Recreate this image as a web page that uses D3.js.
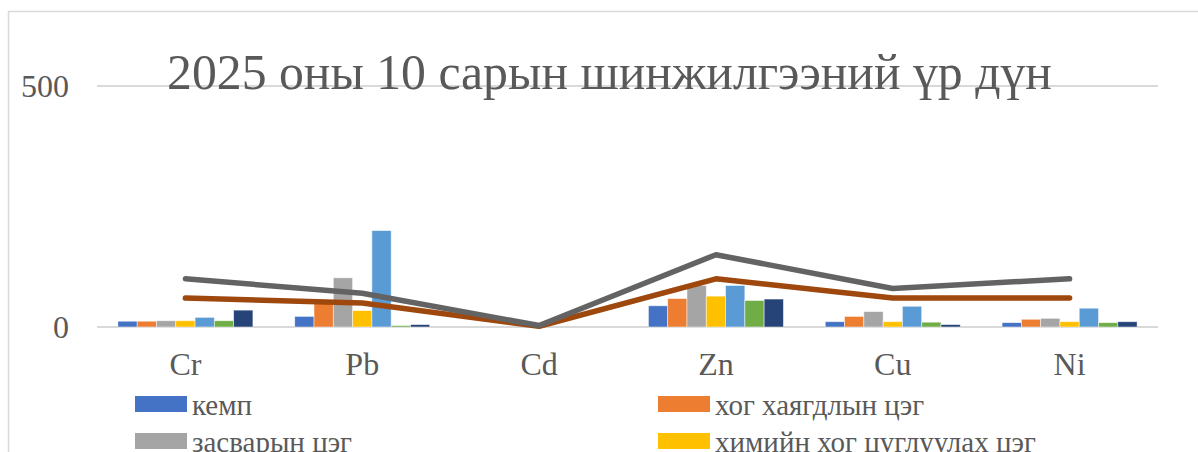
<!DOCTYPE html>
<html>
<head>
<meta charset="utf-8">
<script src="https://cdn.jsdelivr.net/npm/d3@7"></script>
<style>
  html, body { margin: 0; padding: 0; background: #fff; }
  svg { display: block; }
  text { font-family: "Liberation Serif", "Times New Roman", serif; fill: #595959; }
</style>
</head>
<body>
<svg id="chart" width="1198" height="452"></svg>
<script>
// ---- data ----
const title = "2025 оны 10 сарын шинжилгээний үр дүн";
const categories = ["Cr", "Pb", "Cd", "Zn", "Cu", "Ni"];
const yTicks = [0, 500];

// bar series (only the first four names are visible in the cropped legend)
const barNames = ["кемп", "хог хаягдлын цэг", "засварын цэг", "химийн хог цуглуулах цэг", "", "", ""];
const barColors = ["#4472c4", "#ed7d31", "#a5a5a5", "#ffc000", "#5b9bd5", "#70ad47", "#264478"];
const bar1 = [12, 22, 0, 44, 11, 9];
const bar2 = [12, 49, 0, 59, 22, 16];
const bar3 = [13, 102, 0, 86, 32, 18];
const bar4 = [13, 34, 0, 64, 11, 11];
const bar5 = [20, 200, 0, 86, 43, 39];
const bar6 = [13, 3, 0, 55, 10, 9];
const bar7 = [35, 5, 0, 58, 5, 11];
const barSeries = [bar1, bar2, bar3, bar4, bar5, bar6, bar7];

// line series
const lineA = [60, 50, 1.5, 100, 60, 60];   // brown
const lineB = [100, 70, 3, 150, 80, 100];   // dark gray
const lineColors = ["#9e480e", "#636363"];
const lineSeries = [lineA, lineB];

// ---- drawing ----
const svg = d3.select("#chart");

// chart frame
svg.append("rect")
  .attr("x", 8.5).attr("y", 11.5)
  .attr("width", 1300).attr("height", 600)
  .attr("fill", "none").attr("stroke", "#d9d9d9").attr("stroke-width", 1.5);

const x = d3.scaleBand().domain(categories).range([97, 1158])
  .paddingInner(0.2365).paddingOuter(0.1182);
const xi = d3.scaleBand().domain(d3.range(barSeries.length)).range([0, x.bandwidth()]);
const y = d3.scaleLinear().domain([0, 500]).range([327, 86]);

// gridlines
svg.append("g").selectAll("line").data(yTicks).join("line")
  .attr("x1", 97).attr("x2", 1158)
  .attr("y1", d => y(d)).attr("y2", d => y(d))
  .attr("stroke", "#d9d9d9").attr("stroke-width", 2);

// y axis labels
const yAxis = d3.axisLeft(y).tickValues(yTicks).tickSize(0).tickPadding(0);
const gy = svg.append("g").attr("transform", "translate(69,0)").call(yAxis);
gy.select(".domain").remove();
gy.selectAll("text").attr("font-size", 32).attr("fill", "#595959")
  .style("font-family", "Liberation Serif");
gy.attr("font-family", null);

// bars
const groups = svg.append("g").selectAll("g").data(barSeries).join("g")
  .attr("fill", (d, i) => barColors[i]);
groups.each(function (vals, si) {
  d3.select(this).selectAll("rect").data(vals).join("rect")
    .attr("x", (v, ci) => x(categories[ci]) + xi(si))
    .attr("width", xi.bandwidth())
    .attr("y", v => y(v))
    .attr("height", v => y(0) - y(v))
    .attr("stroke", "#ffffff").attr("stroke-opacity", 0.6).attr("stroke-width", 0.8);
});

// lines
const line = d3.line()
  .x((v, i) => x(categories[i]) + x.bandwidth() / 2)
  .y(v => y(v));
svg.append("g").selectAll("path").data(lineSeries).join("path")
  .attr("d", d => line(d))
  .attr("fill", "none")
  .attr("stroke", (d, i) => lineColors[i])
  .attr("stroke-width", 5.5)
  .attr("stroke-linecap", "round")
  .attr("stroke-linejoin", "round");

// x axis labels
const xAxis = d3.axisBottom(x).tickSize(0).tickPadding(0);
const gx = svg.append("g").attr("transform", "translate(0,375)").call(xAxis);
gx.select(".domain").remove();
gx.attr("font-family", null);
gx.selectAll("text").attr("font-size", 32).attr("fill", "#595959")
  .attr("dy", 0).style("font-family", "Liberation Serif");

// title (fit to measured width)
const t = svg.append("text")
  .attr("x", 609.5).attr("y", 89)
  .attr("text-anchor", "middle")
  .attr("font-size", 58)
  .text(title);
const w = t.node().getComputedTextLength();
t.attr("font-size", 58 * 885 / w);

// legend
const legendItems = barNames.map((n, i) => ({ name: n, color: barColors[i] })).filter(d => d.name);
const legend = svg.append("g").selectAll("g").data(legendItems).join("g")
  .attr("transform", (d, i) => `translate(${i % 2 === 0 ? 135 : 658},${396 + Math.floor(i / 2) * 37})`);
legend.append("rect").attr("width", 52).attr("height", 16).attr("fill", d => d.color);
legend.append("text").attr("x", 57).attr("y", 19).attr("font-size", 29).text(d => d.name);
</script>
</body>
</html>
